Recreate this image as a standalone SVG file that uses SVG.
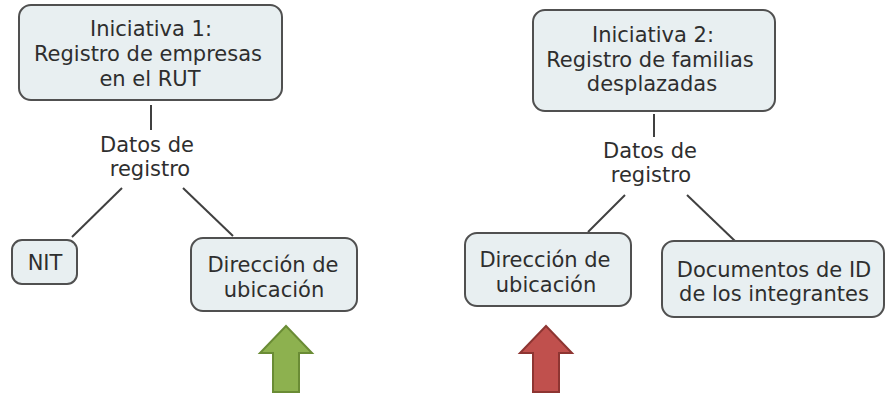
<svg xmlns="http://www.w3.org/2000/svg" width="885" height="394" viewBox="0 0 885 394">
<style>
.box{fill:#e8eff1;stroke:#505050;stroke-width:2}
.t{font-family:"DejaVu Sans",Verdana,sans-serif;font-size:21px;fill:#2e2e2e;text-anchor:middle}
.c{stroke:#404040;stroke-width:2;fill:none}
</style>
<rect width="885" height="394" fill="#ffffff"/>
<g id="connectors">
<line class="c" x1="151" y1="105" x2="151" y2="130"/>
<line class="c" x1="122" y1="188" x2="72" y2="237"/>
<line class="c" x1="183" y1="188" x2="233" y2="236"/>
<line class="c" x1="654" y1="114" x2="654" y2="137"/>
<line class="c" x1="625" y1="195" x2="588" y2="232"/>
<line class="c" x1="687" y1="195" x2="735" y2="241"/>
</g>
<g id="node-iniciativa1">
<rect class="box" x="19" y="5" width="263" height="95" rx="12"/>
<text class="t" x="151" y="36">Iniciativa 1:</text>
<text class="t" x="148" y="61">Registro de empresas</text>
<text class="t" x="150" y="86">en el RUT</text>
</g>
<g id="label-datos1">
<text class="t" x="147" y="152">Datos de</text>
<text class="t" x="150" y="176">registro</text>
</g>
<g id="node-nit">
<rect class="box" x="12" y="240" width="65" height="44" rx="10"/>
<text class="t" x="45" y="270">NIT</text>
</g>
<g id="node-direccion1">
<rect class="box" x="191" y="238" width="166" height="73" rx="12"/>
<text class="t" x="273" y="272">Dirección de</text>
<text class="t" x="274" y="297">ubicación</text>
</g>
<g id="node-iniciativa2">
<rect class="box" x="533" y="10" width="242" height="101" rx="12"/>
<text class="t" x="653" y="42">Iniciativa 2:</text>
<text class="t" x="650" y="67">Registro de familias</text>
<text class="t" x="652" y="91">desplazadas</text>
</g>
<g id="label-datos2">
<text class="t" x="650" y="158">Datos de</text>
<text class="t" x="651" y="182">registro</text>
</g>
<g id="node-direccion2">
<rect class="box" x="465" y="233" width="166" height="73" rx="12"/>
<text class="t" x="545" y="267">Dirección de</text>
<text class="t" x="546" y="292">ubicación</text>
</g>
<g id="node-documentos">
<rect class="box" x="662" y="241" width="222" height="76" rx="12"/>
<text class="t" x="774" y="277">Documentos de ID</text>
<text class="t" x="774" y="301">de los integrantes</text>
</g>
<g id="arrow-green">
<polygon points="286,326 312,353 299,353 299,392 273,392 273,353 260,353" fill="#8db14f" stroke="#6a8c35" stroke-width="2"/>
</g>
<g id="arrow-red">
<polygon points="546,326 572,353 559,353 559,392 533,392 533,353 520,353" fill="#c0504d" stroke="#8e3532" stroke-width="2"/>
</g>
</svg>
